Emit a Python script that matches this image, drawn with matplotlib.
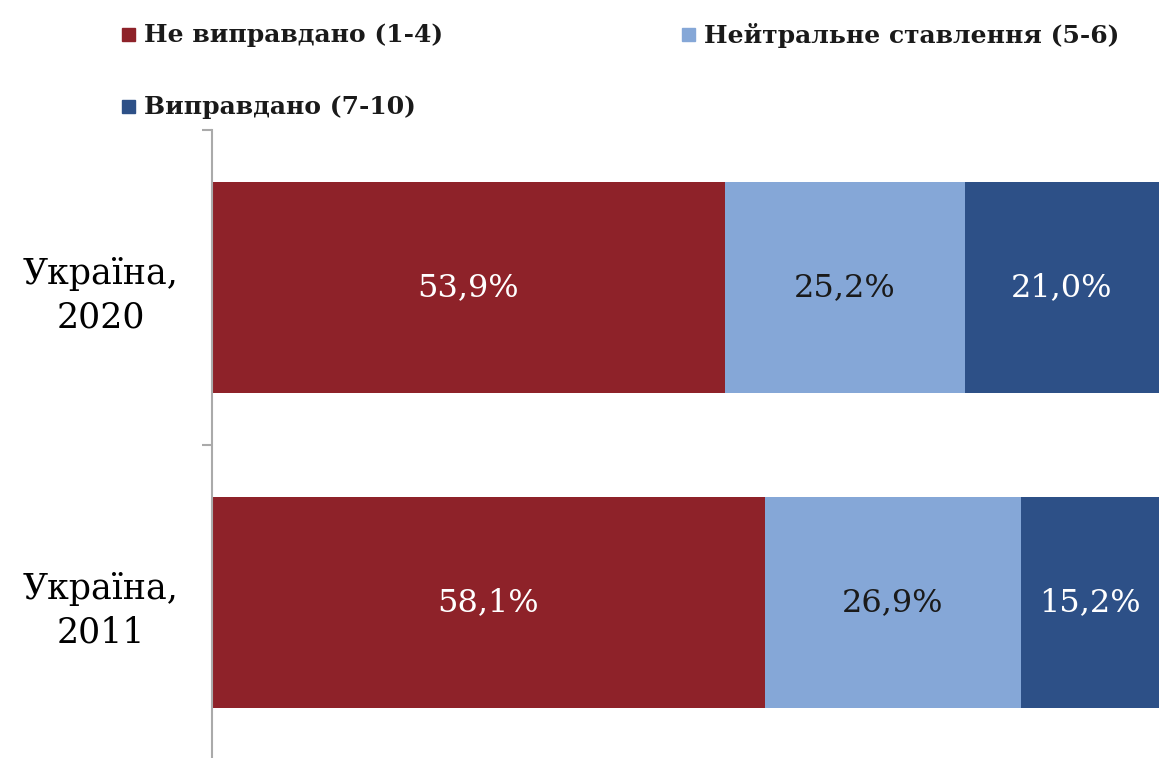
import matplotlib.pyplot as plt
import numpy as np

categories = ['Україна,\n2011', 'Україна,\n2020']
series_names = ['Не виправдано (1-4)', 'Нейтральне ставлення (5-6)', 'Виправдано (7-10)']
not_justified = [58.1, 53.9]
neutral = [26.9, 25.2]
justified = [15.2, 21.0]
value_labels = [['58,1%', '53,9%'], ['26,9%', '25,2%'], ['15,2%', '21,0%']]

colors = ['#8E2229', '#85A7D7', '#2D5087']
text_colors = ['white', '#1a1a1a', 'white']

plt.rcParams['font.family'] = ['DejaVu Serif']

fig = plt.figure(figsize=(11.59, 7.58), dpi=100)
ax = fig.add_axes([212 / 1159, -2 / 758, 1 - 212 / 1159, 630 / 758])

y = np.arange(len(categories))
left = np.zeros(len(categories))
for vals, col, tcol, labs in zip([not_justified, neutral, justified], colors, text_colors, value_labels):
    bars = ax.barh(y, vals, left=left, height=0.67, color=col, edgecolor='none')
    ax.bar_label(bars, labels=labs, label_type='center', color=tcol, fontsize=23)
    left += np.array(vals)

ax.set_xlim(0, 99.5)
ax.set_ylim(-0.5, 1.5)
ax.set_yticks(y)
ax.set_yticklabels(categories, fontsize=25, multialignment='center', linespacing=1.35)
ax.tick_params(axis='y', which='major', length=0, pad=24)
ax.set_yticks([-0.5, 0.5, 1.5], minor=True)
ax.tick_params(axis='y', which='minor', length=7, width=1.5, color='#AAAAAA')
ax.set_xticks([])
for s in ['top', 'right', 'bottom']:
    ax.spines[s].set_visible(False)
ax.spines['left'].set_color('#AAAAAA')
ax.spines['left'].set_linewidth(1.5)

# legend, drawn by hand
legend_pos = [(122, 35), (682, 35), (122, 107)]
W, H = 1159, 758
for name, col, (px, py) in zip(series_names, colors, legend_pos):
    fig.patches.append(plt.Rectangle((px / W, 1 - (py + 6) / H), 13 / W, 13 / H,
                                     transform=fig.transFigure, color=col))
    fig.text((px + 22) / W, 1 - py / H, name, fontsize=18, fontweight='bold',
             va='center', ha='left', color='#1a1a1a')

fig.savefig('out.png', dpi=100)
